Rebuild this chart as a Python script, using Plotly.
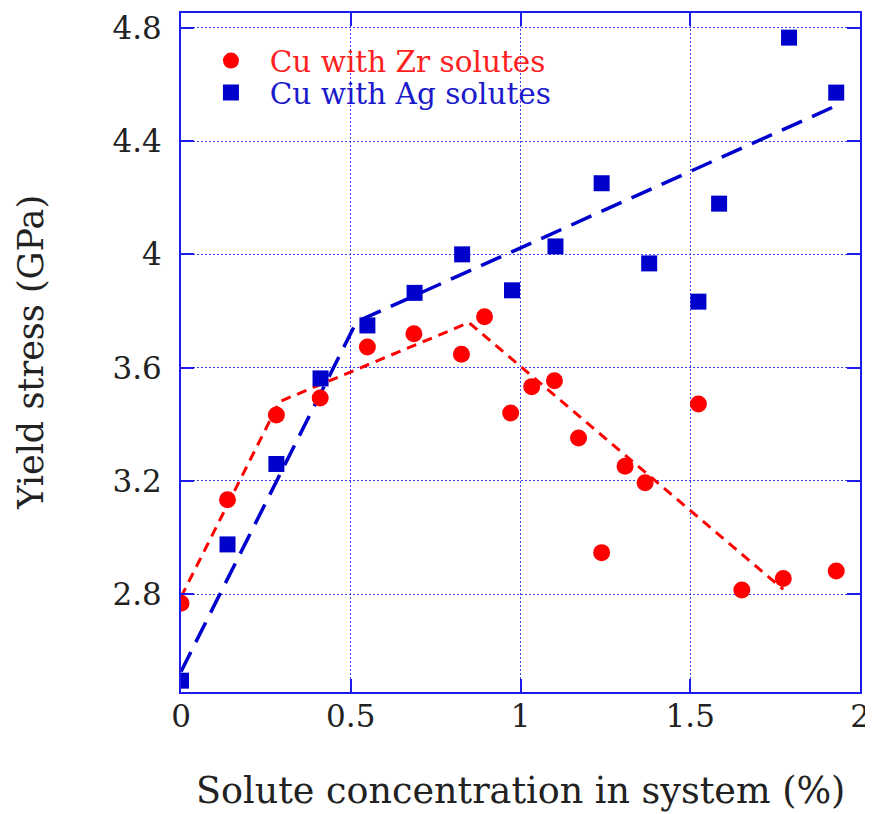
import plotly.graph_objects as go

# Cu with Zr solutes (red circles)
zr_x = [0.0, 0.137, 0.281, 0.41, 0.549, 0.686, 0.826, 0.894, 0.971, 1.033,
        1.10, 1.171, 1.239, 1.308, 1.367, 1.524, 1.652, 1.774, 1.93]
zr_y = [2.768, 3.134, 3.433, 3.493, 3.673, 3.72, 3.647, 3.78, 3.44, 3.533,
        3.554, 3.352, 2.947, 3.252, 3.194, 3.472, 2.815, 2.856, 2.882]

# Cu with Ag solutes (blue squares)
ag_x = [0.0, 0.137, 0.281, 0.411, 0.549, 0.688, 0.828, 0.975, 1.103, 1.239,
        1.379, 1.524, 1.585, 1.791, 1.93]
ag_y = [2.495, 2.976, 3.26, 3.562, 3.749, 3.864, 4.0, 3.873, 4.028, 4.251,
        3.968, 3.833, 4.179, 4.765, 4.571]

# Piecewise trend lines
zr_fit_x = [0.0, 0.29, 0.848, 1.774]
zr_fit_y = [2.79, 3.48, 3.759, 2.817]
ag_fit_x = [0.0, 0.517, 1.93]
ag_fit_y = [2.527, 3.762, 4.525]

x_ticks = [0, 0.5, 1, 1.5, 2]
x_tick_text = ["0", "0.5", "1", "1.5", "2"]
y_ticks = [2.8, 3.2, 3.6, 4.0, 4.4, 4.8]
y_tick_text = ["2.8", "3.2", "3.6", "4", "4.4", "4.8"]

RED = "#ff0000"
BLUE = "#0000cc"
FRAME = "#1c1cee"
GRID = "#4040ee"
FONT = "DejaVu Serif"

# page body has an 8px default margin; figure is sized to fit the window
W, H = 865, 806
ML, MR, MT, MB = 173, 12, 3, 122
PW, PH = W - ML - MR, H - MT - MB  # 680 x 681

fig = go.Figure()
fig.add_trace(go.Scatter(x=zr_fit_x, y=zr_fit_y, mode="lines",
                         line=dict(color=RED, width=3, dash="10px,7px"),
                         showlegend=False, hoverinfo="skip"))
fig.add_trace(go.Scatter(x=ag_fit_x, y=ag_fit_y, mode="lines",
                         line=dict(color=BLUE, width=3.5, dash="22px,11px"),
                         showlegend=False, hoverinfo="skip"))
fig.add_trace(go.Scatter(x=zr_x, y=zr_y, mode="markers", legend="legend",
                         name='<span style="color:#ff2020">\u00a0\u00a0Cu with Zr solutes</span>',
                         marker=dict(symbol="circle", size=17, color=RED)))
fig.add_trace(go.Scatter(x=ag_x, y=ag_y, mode="markers", legend="legend2",
                         name='<span style="color:#1a1acc">\u00a0\u00a0Cu with Ag solutes</span>',
                         marker=dict(symbol="square", size=16, color=BLUE)))

axis_common = dict(
    showline=True, linecolor=FRAME, linewidth=2, mirror="ticks",
    ticks="inside", ticklen=13, tickwidth=2, tickcolor=FRAME,
    showgrid=True, gridcolor=GRID, gridwidth=1.4, griddash="2px,2px",
    zeroline=False,
    tickfont=dict(family=FONT, size=31, color="#222222"),
)

fig.update_xaxes(range=[0, 2], tickvals=x_ticks, ticktext=x_tick_text,
                 ticklabelstandoff=-4, **axis_common)
fig.update_yaxes(range=[2.455, 4.852], tickvals=y_ticks, ticktext=y_tick_text,
                 ticklabelstandoff=11, **axis_common)

fig.add_annotation(text="Solute concentration in system (%)", xref="paper", yref="paper",
                   x=0.5, y=-(791 - 692) / PH, xanchor="center", yanchor="middle",
                   showarrow=False, font=dict(family=FONT, size=36.5, color="#222222"))
fig.add_annotation(text="Yield stress (GPa)", xref="paper", yref="paper",
                   x=-(181 - 30) / PW, y=0.5, xanchor="center", yanchor="middle",
                   textangle=-90, showarrow=False,
                   font=dict(family=FONT, size=35, color="#222222"))

leg_common = dict(xanchor="left", yanchor="middle", bgcolor="rgba(0,0,0,0)",
                  font=dict(family=FONT, size=29.5), itemwidth=30)
fig.update_layout(
    width=W, height=H,
    margin=dict(l=ML, r=MR, t=MT, b=MB),
    plot_bgcolor="white", paper_bgcolor="white",
    legend=dict(x=(211 - 181) / PW, y=(692 - 59) / PH, **leg_common),
    legend2=dict(x=(211 - 181) / PW, y=(692 - 91) / PH, **leg_common),
)

fig.write_html("out.html")
